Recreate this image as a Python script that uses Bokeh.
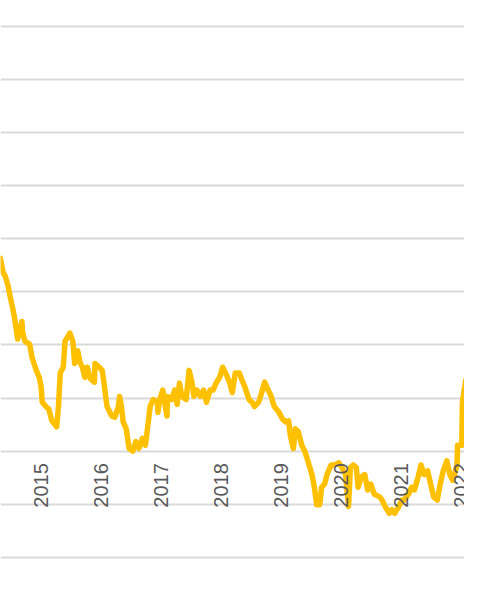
import math
from bokeh.plotting import figure
from bokeh.models import Range1d, Grid, FixedTicker, ColumnDataSource
from bokeh.core.properties import value
from bokeh.embed import file_html
from bokeh.resources import INLINE

# decimal years and series values
dates = [2014.32, 2014.37, 2014.40, 2014.45, 2014.48, 2014.53, 2014.56, 2014.61, 2014.68, 2014.69,
         2014.73, 2014.81, 2014.85, 2014.92, 2014.97, 2015.00, 2015.02, 2015.08, 2015.13, 2015.18,
         2015.26, 2015.29, 2015.32, 2015.37, 2015.40, 2015.45, 2015.48, 2015.53, 2015.56, 2015.61,
         2015.65, 2015.69, 2015.73, 2015.77, 2015.82, 2015.89, 2015.90, 2015.97, 2016.02, 2016.05,
         2016.10, 2016.18, 2016.23, 2016.29, 2016.31, 2016.34, 2016.37, 2016.42, 2016.47, 2016.53,
         2016.58, 2016.63, 2016.69, 2016.74, 2016.77, 2016.82, 2016.87, 2016.94, 2016.95, 2016.98,
         2017.03, 2017.10, 2017.11, 2017.18, 2017.23, 2017.27, 2017.31, 2017.35, 2017.42, 2017.47,
         2017.52, 2017.55, 2017.60, 2017.66, 2017.71, 2017.76, 2017.82, 2017.87, 2017.92, 2017.98,
         2018.03, 2018.08, 2018.15, 2018.19, 2018.24, 2018.31, 2018.35, 2018.40, 2018.47, 2018.52,
         2018.56, 2018.63, 2018.68, 2018.73, 2018.79, 2018.84, 2018.89, 2018.97, 2019.03, 2019.08,
         2019.13, 2019.16, 2019.21, 2019.24, 2019.29, 2019.35, 2019.40, 2019.45, 2019.52, 2019.56,
         2019.60, 2019.65, 2019.68, 2019.73, 2019.77, 2019.84, 2019.89, 2019.97, 2020.02, 2020.08,
         2020.13, 2020.16, 2020.21, 2020.26, 2020.29, 2020.34, 2020.40, 2020.45, 2020.50, 2020.56,
         2020.65, 2020.69, 2020.74, 2020.81, 2020.85, 2020.90, 2020.97, 2021.02, 2021.06, 2021.13,
         2021.18, 2021.23, 2021.29, 2021.34, 2021.39, 2021.45, 2021.50, 2021.55, 2021.61, 2021.66,
         2021.71, 2021.77, 2021.82, 2021.87, 2021.94, 2021.95, 2022.02, 2022.03, 2022.06, 2022.09]

values = [3.63, 3.35, 3.30, 3.11, 2.93, 2.67, 2.49, 2.11, 2.44, 2.25,
          2.07, 2.01, 1.76, 1.52, 1.39, 1.21, 0.92, 0.84, 0.79, 0.57,
          0.46, 0.84, 1.47, 1.58, 2.07, 2.16, 2.22, 2.07, 1.65, 1.89,
          1.67, 1.58, 1.39, 1.58, 1.37, 1.30, 1.65, 1.58, 1.52, 1.28,
          0.84, 0.66, 0.64, 0.84, 1.03, 0.84, 0.55, 0.42, 0.05, 0.00,
          0.18, 0.05, 0.24, 0.11, 0.37, 0.84, 0.97, 0.93, 0.73, 0.97,
          1.15, 0.66, 1.03, 0.97, 1.15, 0.88, 1.28, 1.03, 0.97, 1.52,
          1.28, 1.03, 1.15, 1.03, 1.15, 0.92, 1.15, 1.15, 1.28, 1.39,
          1.58, 1.47, 1.28, 1.10, 1.47, 1.47, 1.34, 1.21, 0.97, 0.92,
          0.84, 0.92, 1.10, 1.30, 1.15, 1.03, 0.84, 0.73, 0.60, 0.55,
          0.57, 0.29, 0.05, 0.42, 0.37, 0.11, 0.00, -0.18, -0.44, -0.68,
          -1.01, -1.01, -0.68, -0.62, -0.44, -0.26, -0.26, -0.22, -0.31, -0.44,
          -1.04, -0.31, -0.26, -0.31, -0.68, -0.49, -0.44, -0.73, -0.62, -0.81,
          -0.86, -0.92, -1.04, -1.17, -1.10, -1.17, -1.04, -0.92, -0.92, -0.81,
          -0.68, -0.73, -0.49, -0.26, -0.44, -0.37, -0.62, -0.86, -0.92, -0.62,
          -0.37, -0.18, -0.44, -0.55, -0.26, 0.11, 0.11, 0.92, 1.15, 1.35]

year_ticks = [2015, 2016, 2017, 2018, 2019, 2020, 2021, 2022]
year_labels = ["2015", "2016", "2017", "2018", "2019", "2020", "2021", "2022"]
grid_values = [-2, -1, 0, 1, 2, 3, 4, 5, 6, 7, 8]

p = figure(width=464, height=584,
           x_range=Range1d(2014.323, 2022.065),
           y_range=Range1d(-2.509, 8.48),
           output_backend="svg", toolbar_location=None,
           x_axis_location=None, y_axis_location=None,
           min_border=0)
p.outline_line_color = None
p.background_fill_color = "white"
p.border_fill_color = "white"

# drop default grids, keep only horizontal fixed gridlines
p.center = [c for c in p.center if not isinstance(c, Grid)]
p.add_layout(Grid(dimension=1, ticker=FixedTicker(ticks=grid_values),
                  grid_line_color="#d9d9d9", grid_line_width=2))

src = ColumnDataSource(dict(x=dates, y=values))
p.line("x", "y", source=src, line_color="#FFC000", line_width=5.5,
       line_join="round", line_cap="round")

lab = ColumnDataSource(dict(x=year_ticks, y=[0] * len(year_ticks), t=year_labels))
p.text("x", "y", text="t", source=lab, angle=math.pi / 2,
       text_align="right", text_baseline="middle", y_offset=12,
       text_font=value("Liberation Sans"), text_font_size="20px",
       text_color="#595959")

open("out.html", "w").write(file_html(p, INLINE))
